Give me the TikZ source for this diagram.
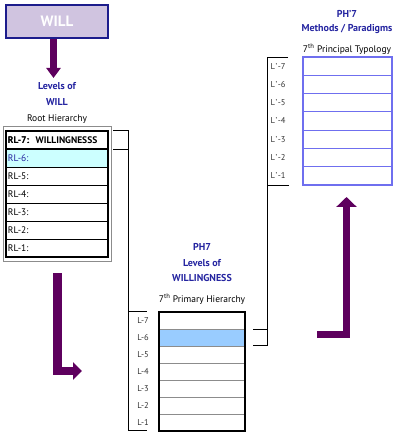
\documentclass[tikz,border=0pt]{standalone}
\usepackage{fontspec}
\setmainfont{PT Sans}
\usetikzlibrary{arrows.meta}
\definecolor{willfill}{HTML}{D0C4E0}
\definecolor{willdraw}{HTML}{1C1C8C}
\definecolor{arrowpurple}{HTML}{5E005E}
\definecolor{titleblue}{HTML}{2424A0}
\definecolor{cyanrow}{HTML}{CCFFFF}
\definecolor{bluerow}{HTML}{99CCFF}
\definecolor{typoblue}{HTML}{6F6FEF}
\tikzset{
  title/.style={font=\fontsize{10}{11}\selectfont\bfseries, text=titleblue, inner sep=0pt},
  subtitle/.style={font=\fontsize{9.5}{11}\selectfont, inner sep=0pt},
  rlrow/.style={draw=black, line width=0.7pt, minimum width=102pt, minimum height=18pt,
    text width=98pt, align=left, anchor=north west, inner xsep=2pt, inner ysep=0pt, outer sep=0pt,
    font=\fontsize{9.5}{10}\selectfont},
  lrow/.style={draw=black!45, line width=0.8pt, minimum width=86pt, minimum height=17pt,
    anchor=north west, inner sep=0pt, outer sep=0pt},
  prow/.style={draw=typoblue, line width=1.1pt, minimum width=89pt, minimum height=18.29pt,
    anchor=north west, inner sep=0pt, outer sep=0pt},
  rowlabel/.style={font=\fontsize{8.5}{9}\selectfont, text=black!80, inner sep=0pt},
  bigarrow/.style={draw=arrowpurple, line join=miter},
  bracket/.style={draw=black, line width=0.8pt},
}
\begin{document}
\begin{tikzpicture}[x=1pt,y=-1pt]
\useasboundingbox (0,0) rectangle (400,435);
% WILL box
\node[draw=willdraw, line width=1.4pt, fill=willfill, minimum width=102pt, minimum height=33pt,
  inner sep=0pt, text=white, font=\fontsize{15}{16}\selectfont\bfseries] (will) at (57,21.5) {WILL};
% titles left
\node[title] (lev1) at (57,86) {Levels of};
\node[title] (lev2) at (57,102) {WILL};
\node[subtitle] (root) at (57,119) {Root Hierarchy};
\coordinate (tiptop) at (53.5,78);
\draw[bigarrow, line width=7pt, -{Triangle[length=10pt,width=14pt]}] (will.south -| tiptop) -- (tiptop);
% left table
\draw[black!45, line width=0.8pt] (3.5,126.5) rectangle (111,261.5);
\foreach \i [count=\k from 0] in {7,6,5,4,3,2,1} {
  \node[rlrow] (rl\i) at (6,131+18*\k) {RL-\i:};
}
\node[rlrow, font=\fontsize{9.5}{10}\selectfont\bfseries] at (rl7.north west) {RL-7:\ \ WILLINGNESSS};
\node[rlrow, fill=cyanrow, text=titleblue] at (rl6.north west) {RL-6:};
\draw[line width=1.8pt] (rl7.north west) rectangle (rl1.south east);
\draw[line width=1.8pt] (rl7.south west) -- (rl7.south east);
% bottom table titles
\node[title] (ph1) at (202,247) {PH7};
\node[title] (ph2) at (202,263) {Levels of};
\node[title] (ph3) at (202,278) {WILLINGNESS};
\node[subtitle] (ph4) at (202,299) {7\textsuperscript{th} Primary Hierarchy};
% bottom table
\foreach \i [count=\k from 0] in {7,6,5,4,3,2,1} {
  \node[lrow] (l\i) at (159,312+17*\k) {};
  \node[rowlabel] (ll\i) at (143,320.5+17*\k) {L-\i};
}
\node[lrow, fill=bluerow] at (l6.north west) {};
\draw[line width=1.5pt] (l7.north west) rectangle (l1.south east);
% right table titles
\node[title] (pp1) at (347,14) {PH'7};
\node[title] (pp2) at (347,29) {Methods / Paradigms};
\node[subtitle] (pp3) at (347,49) {7\textsuperscript{th} Principal Typology};
% right table
\foreach \i [count=\k from 0] in {7,6,5,4,3,2,1} {
  \node[prow] (p\i) at (303,57+18.2857*\k) {};
  \node[rowlabel] (pl\i) at (278,66.1+18.2857*\k) {L\kern0.6pt'\kern0.6pt-\i};
}
\draw[typoblue, line width=1.4pt] (p7.north west) rectangle (p1.south east);
% left bracket
\coordinate (lbtop) at (128,130);
\draw[bracket] (113,130) -- (lbtop) -- (128,430) -- (147,430);
\draw[bracket] (113,149) -- (128,149);
\draw[bracket] (128,311) -- (147,311);
% right bracket
\draw[bracket] (288,57) -- (267,57) -- (267,345) -- (253,345);
\draw[bracket] (289,185) -- (267,185);
\draw[bracket] (253,329) -- (267,329);
% left L arrow
\coordinate (la1) at (57.5,273);
\coordinate (la2) at (57.5,371);
\coordinate (la3) at (82,371);
\draw[bigarrow, line width=8.5pt, -{Triangle[length=9pt,width=17pt]}] (la1) -- (la2) -- (la3);
% right L arrow
\coordinate (ra1) at (317,334.5);
\coordinate (ra2) at (346.5,334.5);
\coordinate (ra3) at (346.5,197);
\draw[bigarrow, line width=7.5pt, -{Triangle[length=10pt,width=20pt]}] (ra1) -- (ra2) -- (ra3);
\end{tikzpicture}
\end{document}
